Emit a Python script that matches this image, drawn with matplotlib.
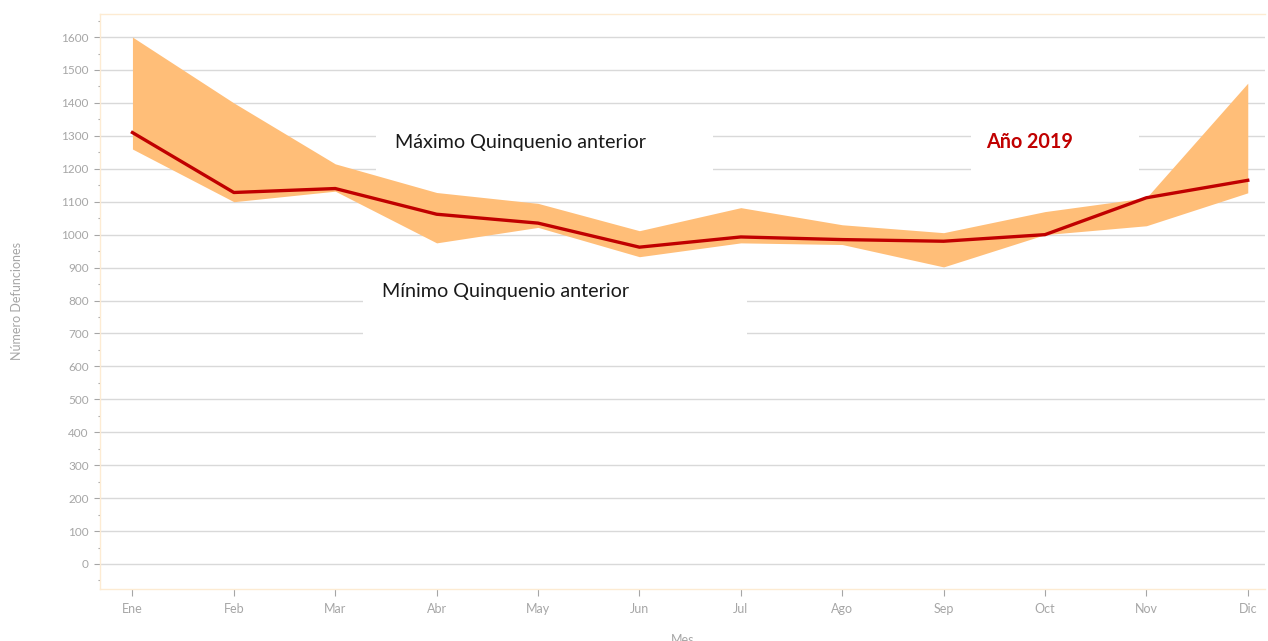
import matplotlib
matplotlib.use("Agg")
import matplotlib.pyplot as plt
from matplotlib.patches import Rectangle
from matplotlib.ticker import MultipleLocator

months = ["Ene", "Feb", "Mar", "Abr", "May", "Jun", "Jul", "Ago", "Sep", "Oct", "Nov", "Dic"]
max_prev = [1600, 1400, 1215, 1128, 1095, 1012, 1082, 1030, 1006, 1070, 1112, 1460]
min_prev = [1260, 1100, 1132, 975, 1022, 933, 975, 970, 902, 1000, 1027, 1127]
y2019 = [1310, 1128, 1140, 1062, 1035, 962, 993, 985, 980, 1000, 1112, 1165]
yticks = list(range(0, 1601, 100))

plt.rcParams['font.family'] = ['Lato', 'DejaVu Sans']

fig = plt.figure(figsize=(12.68, 6.41), dpi=100)
ax = fig.add_axes([100/1268, 52/641, 1165/1268, 575/641])
x = list(range(len(months)))

ax.fill_between(x, min_prev, max_prev, color="#FFBE78", linewidth=0, zorder=2)
ax.plot(x, y2019, color="#C00000", linewidth=2.4, zorder=3)

ax.set_xlim(-0.32, 11.17)
ax.set_ylim(-76, 1670)
ax.set_yticks(yticks)
ax.yaxis.set_minor_locator(MultipleLocator(50))
ax.set_xticks(x)
ax.set_xticklabels(months)
ax.grid(axis='y', color="#D9D9D9", linewidth=1, zorder=0.5)
ax.set_axisbelow(True)

grey = "#A6A6A6"
ax.tick_params(axis='y', which='major', length=4, width=0.8, color=grey, labelcolor=grey, labelsize=8.5, pad=4)
ax.tick_params(axis='y', which='minor', length=1.5, width=0.8, color=grey)
ax.tick_params(axis='x', which='major', length=5, width=0.8, color=grey, labelcolor=grey, labelsize=9, pad=5)

for s in ['left', 'top', 'bottom']:
    ax.spines[s].set_color("#FDEBD2")
    ax.spines[s].set_linewidth(1)
ax.spines['right'].set_visible(False)

ax.set_ylabel("Número Defunciones", color=grey, fontsize=9)
ax.yaxis.set_label_coords(-0.066, 0.5)
ax.set_xlabel("Mes", color=grey, fontsize=9)
ax.xaxis.set_label_coords(0.5, -0.079)

# white label boxes
ax.add_patch(Rectangle((2.40, 1190), 3.33, 140, facecolor="white", edgecolor="none", zorder=1))
ax.add_patch(Rectangle((2.27, 670), 3.79, 180, facecolor="white", edgecolor="none", zorder=1))
ax.add_patch(Rectangle((8.27, 1190), 1.66, 140, facecolor="white", edgecolor="none", zorder=1))

ax.text(3.83, 1281, "Máximo Quinquenio anterior", fontsize=14.2, color="#1a1a1a", ha='center', va='center', zorder=4)
ax.text(3.68, 826, "Mínimo Quinquenio anterior", fontsize=14.2, color="#1a1a1a", ha='center', va='center', zorder=4)
ax.text(8.85, 1281, "Año 2019", fontsize=14.2, color="#C00000", fontweight='bold', ha='center', va='center', zorder=4)

fig.savefig("out.png", dpi=100)
